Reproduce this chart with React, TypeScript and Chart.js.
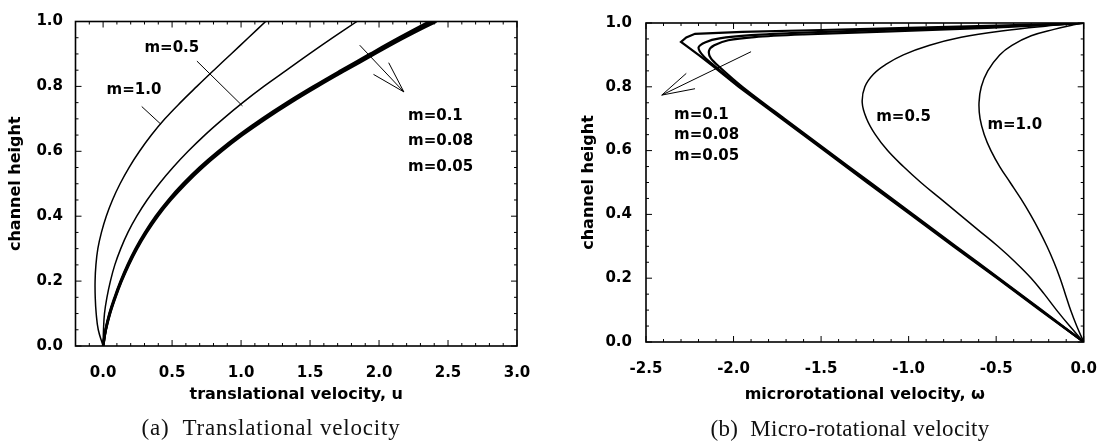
import React, { useEffect, useRef } from 'react';
import { Chart, registerables } from 'chart.js';

Chart.register(...registerables);

// ---------- Panel (a): translational velocity u vs channel height ----------
const uHeights = [0, 0.05, 0.1, 0.15, 0.2, 0.25, 0.3, 0.35, 0.4, 0.45, 0.5, 0.55, 0.6, 0.65, 0.7, 0.75, 0.8, 0.85, 0.9, 0.95, 1.0];
const uM10 = [0, -0.035, -0.05, -0.057, -0.058, -0.052, -0.038, -0.012, 0.023, 0.068, 0.123, 0.188, 0.264, 0.35, 0.448, 0.56, 0.68, 0.803, 0.928, 1.053, 1.178];
const uM05 = [0, 0.003, 0.01, 0.028, 0.053, 0.085, 0.128, 0.18, 0.244, 0.319, 0.407, 0.506, 0.616, 0.737, 0.87, 1.012, 1.165, 1.33, 1.495, 1.665, 1.84];
const uM01 = [0, 0.02, 0.05, 0.089, 0.134, 0.186, 0.246, 0.316, 0.396, 0.49, 0.598, 0.72, 0.858, 1.01, 1.178, 1.36, 1.555, 1.76, 1.97, 2.185, 2.415];
const uM008 = [0, 0.019, 0.048, 0.087, 0.131, 0.182, 0.241, 0.31, 0.389, 0.482, 0.589, 0.71, 0.847, 0.998, 1.165, 1.346, 1.54, 1.743, 1.952, 2.165, 2.39];
const uM005 = [0, 0.018, 0.046, 0.084, 0.128, 0.178, 0.236, 0.304, 0.382, 0.474, 0.58, 0.7, 0.836, 0.986, 1.152, 1.332, 1.525, 1.727, 1.934, 2.145, 2.365];

// ---------- Panel (b): micro-rotational velocity w vs channel height ----------
const wM10Heights = [0, 0.05, 0.1, 0.15, 0.2, 0.25, 0.3, 0.35, 0.4, 0.45, 0.5, 0.55, 0.6, 0.65, 0.7, 0.75, 0.8, 0.85, 0.9, 0.93, 0.96, 0.98, 0.995, 1.0];
const wM10 = [0, -0.04, -0.075, -0.105, -0.135, -0.17, -0.21, -0.255, -0.305, -0.36, -0.42, -0.48, -0.53, -0.568, -0.592, -0.598, -0.585, -0.548, -0.48, -0.41, -0.3, -0.17, -0.05, 0];
const wM05Heights = [0, 0.05, 0.1, 0.15, 0.2, 0.25, 0.3, 0.35, 0.4, 0.45, 0.5, 0.55, 0.6, 0.65, 0.7, 0.75, 0.8, 0.84, 0.87, 0.9, 0.93, 0.955, 0.975, 0.99, 1.0];
const wM05 = [0, -0.08, -0.155, -0.225, -0.3, -0.39, -0.49, -0.6, -0.71, -0.82, -0.93, -1.03, -1.12, -1.19, -1.24, -1.265, -1.25, -1.2, -1.13, -1.03, -0.88, -0.7, -0.47, -0.22, 0];
const wM01Heights = [0, 0.1, 0.2, 0.3, 0.4, 0.5, 0.6, 0.7, 0.8, 0.862, 0.89, 0.913, 0.93, 0.946, 0.956, 0.964, 0.974, 0.985, 0.994, 1.0];
const wM01 = [0, -0.24, -0.485, -0.73, -0.975, -1.22, -1.465, -1.71, -1.95, -2.08, -2.13, -2.14, -2.11, -2.03, -1.88, -1.6, -1.1, -0.55, -0.2, 0];
const wM008Heights = [0, 0.1, 0.2, 0.3, 0.4, 0.5, 0.6, 0.7, 0.8, 0.862, 0.895, 0.923, 0.94, 0.952, 0.962, 0.97, 0.979, 0.988, 0.996, 1.0];
const wM008 = [0, -0.245, -0.49, -0.737, -0.983, -1.228, -1.473, -1.718, -1.96, -2.1, -2.17, -2.2, -2.16, -2.08, -1.9, -1.6, -1.1, -0.55, -0.15, 0];
const wM005Heights = [0, 0.1, 0.2, 0.3, 0.4, 0.5, 0.6, 0.7, 0.8, 0.862, 0.9, 0.941, 0.955, 0.966, 0.972, 0.978, 0.985, 0.991, 0.997, 1.0];
const wM005 = [0, -0.25, -0.495, -0.744, -0.99, -1.236, -1.48, -1.726, -1.97, -2.11, -2.2, -2.3, -2.27, -2.22, -1.95, -1.5, -1.0, -0.55, -0.15, 0];

// ---------- Ticks and text ----------
const leftXTicks = [0, 0.5, 1.0, 1.5, 2.0, 2.5, 3.0];
const rightXTicks = [-2.5, -2.0, -1.5, -1.0, -0.5, 0];
const yTicks = [0, 0.2, 0.4, 0.6, 0.8, 1.0];
const leftXTitle = 'translational velocity, u';
const rightXTitle = 'microrotational velocity, \u03c9';
const yTitle = 'channel height';
const leftCaption = '(a)  Translational velocity';
const rightCaption = '(b)  Micro-rotational velocity';

// annotation labels / pointer lines in data coordinates
const leftLabels = [
  { text: 'm=0.5', x: 0.30, y: 0.918 },
  { text: 'm=1.0', x: 0.025, y: 0.788 },
  { text: 'm=0.1', x: 2.21, y: 0.708 },
  { text: 'm=0.08', x: 2.21, y: 0.630 },
  { text: 'm=0.05', x: 2.21, y: 0.552 },
];
const leftSegments = [
  [0.28, 0.738, 0.42, 0.683],
  [0.68, 0.878, 1.01, 0.74],
  [1.86, 0.927, 2.18, 0.783],
  [2.07, 0.873, 2.18, 0.783],
  [1.96, 0.837, 2.18, 0.783],
];
const rightLabels = [
  { text: 'm=0.1', x: -2.34, y: 0.71 },
  { text: 'm=0.08', x: -2.34, y: 0.648 },
  { text: 'm=0.05', x: -2.34, y: 0.584 },
  { text: 'm=0.5', x: -1.185, y: 0.705 },
  { text: 'm=1.0', x: -0.55, y: 0.68 },
];
const rightSegments = [
  [-1.90, 0.91, -2.41, 0.774],
  [-2.27, 0.842, -2.41, 0.774],
  [-2.22, 0.794, -2.41, 0.774],
];

const FONT = "'DejaVu Sans', sans-serif";
Chart.defaults.font.family = FONT;
Chart.defaults.color = '#000';

const pts = (xs: number[], ys: number[]) => xs.map((x, i) => ({ x, y: ys[i] }));

const frameTicks = {
  id: 'frameTicks',
  afterDatasetsDraw(chart: any, _a: any, o: any) {
    const { ctx, chartArea: a } = chart;
    const xs = chart.scales.x;
    const ys = chart.scales.y;
    ctx.save();
    ctx.strokeStyle = '#000';
    ctx.lineWidth = 1;
    ctx.beginPath();
    const nX = Math.round((xs.max - xs.min) / o.xMinor);
    for (let i = 0; i <= nX; i++) {
      const v = xs.min + i * o.xMinor;
      const r = v / o.xMajor;
      const len = Math.abs(r - Math.round(r)) < 1e-6 ? 6 : 3;
      const px = xs.getPixelForValue(v);
      ctx.moveTo(px, a.bottom); ctx.lineTo(px, a.bottom - len);
      ctx.moveTo(px, a.top); ctx.lineTo(px, a.top + len);
    }
    const nY = Math.round((ys.max - ys.min) / o.yMinor);
    for (let i = 0; i <= nY; i++) {
      const v = ys.min + i * o.yMinor;
      const r = v / o.yMajor;
      const len = Math.abs(r - Math.round(r)) < 1e-6 ? 6 : 3;
      const py = ys.getPixelForValue(v);
      ctx.moveTo(a.left, py); ctx.lineTo(a.left + len, py);
      ctx.moveTo(a.right, py); ctx.lineTo(a.right - len, py);
    }
    ctx.stroke();
    ctx.lineWidth = 1.6;
    ctx.strokeRect(a.left, a.top, a.right - a.left, a.bottom - a.top);
    ctx.restore();
  },
};

const notes = {
  id: 'notes',
  afterDatasetsDraw(chart: any, _a: any, o: any) {
    const { ctx } = chart;
    const xs = chart.scales.x;
    const ys = chart.scales.y;
    ctx.save();
    ctx.strokeStyle = '#000';
    ctx.lineWidth = 1;
    ctx.beginPath();
    for (const s of o.segments) {
      ctx.moveTo(xs.getPixelForValue(s[0]), ys.getPixelForValue(s[1]));
      ctx.lineTo(xs.getPixelForValue(s[2]), ys.getPixelForValue(s[3]));
    }
    ctx.stroke();
    ctx.fillStyle = '#000';
    ctx.font = `bold 15px ${FONT}`;
    ctx.textAlign = 'left';
    ctx.textBaseline = 'middle';
    for (const l of o.labels) {
      ctx.fillText(l.text, xs.getPixelForValue(l.x), ys.getPixelForValue(l.y));
    }
    ctx.restore();
  },
};

const caption = {
  id: 'caption',
  afterDraw(chart: any, _a: any, o: any) {
    const { ctx } = chart;
    ctx.save();
    ctx.fillStyle = '#111';
    ctx.font = "23px 'Liberation Serif', serif";
    try { (ctx as any).letterSpacing = o.spacing; } catch (e) { /* ignore */ }
    ctx.textAlign = 'center';
    ctx.textBaseline = 'middle';
    ctx.fillText(o.text, o.x, o.y);
    ctx.restore();
  },
};

function makeConfig(p: any) {
  return {
    type: 'scatter',
    data: {
      datasets: p.series.map((s: any) => ({
        label: s.label,
        data: pts(s.xs, s.ys),
        showLine: true,
        borderColor: '#000',
        backgroundColor: '#000',
        borderWidth: s.width,
        pointRadius: 0,
        tension: s.tension,
        fill: false,
      })),
    },
    options: {
      responsive: false,
      animation: false,
      devicePixelRatio: 1,
      layout: { padding: p.padding },
      scales: {
        x: {
          type: 'linear',
          min: p.xMin,
          max: p.xMax,
          afterFit: (s: any) => { s.height = p.xHeight; },
          afterBuildTicks: (s: any) => { s.ticks = p.xTicks.map((v: number) => ({ value: v })); },
          ticks: {
            padding: 18,
            autoSkip: false,
            maxRotation: 0,
            color: '#000',
            font: { size: 15, weight: 'bold' },
            callback: (v: any) => Number(v).toFixed(1),
          },
          grid: { display: false, drawTicks: false },
          border: { display: false },
          title: {
            display: true,
            text: p.xTitle,
            color: '#000',
            font: { size: 16, weight: 'bold' },
            padding: { top: 0, bottom: 39.4 },
          },
        },
        y: {
          type: 'linear',
          min: 0,
          max: 1,
          afterFit: (s: any) => { s.width = p.yWidth; },
          afterBuildTicks: (s: any) => { s.ticks = yTicks.map((v: number) => ({ value: v })); },
          ticks: {
            padding: p.yTickPad,
            color: '#000',
            font: { size: 15, weight: 'bold' },
            callback: (v: any) => Number(v).toFixed(1),
          },
          grid: { display: false, drawTicks: false },
          border: { display: false },
          title: {
            display: true,
            text: yTitle,
            color: '#000',
            font: { size: 16, weight: 'bold' },
            padding: { top: p.yTitlePad, bottom: 0 },
          },
        },
      },
      plugins: {
        legend: { display: false },
        tooltip: { enabled: false },
        frameTicks: { xMinor: 0.1, xMajor: 0.5, yMinor: 0.05, yMajor: 0.2 },
        notes: { labels: p.labels, segments: p.segments },
        caption: { text: p.caption, x: p.captionX, y: p.captionY, spacing: p.captionSpacing },
      },
    },
    plugins: [frameTicks, notes, caption],
  };
}

export default function App() {
  const leftRef = useRef<HTMLCanvasElement>(null);
  const rightRef = useRef<HTMLCanvasElement>(null);

  useEffect(() => {
    const left = new Chart(leftRef.current as any, makeConfig({
      series: [
        { label: 'm=1.0', xs: uM10, ys: uHeights, width: 1.5, tension: 0.4 },
        { label: 'm=0.5', xs: uM05, ys: uHeights, width: 1.5, tension: 0.4 },
        { label: 'm=0.1', xs: uM01, ys: uHeights, width: 2.6, tension: 0.4 },
        { label: 'm=0.08', xs: uM008, ys: uHeights, width: 2.6, tension: 0.4 },
        { label: 'm=0.05', xs: uM005, ys: uHeights, width: 2.6, tension: 0.4 },
      ],
      padding: { left: 0, right: 38, top: 12.5, bottom: 0 },
      xMin: -0.2, xMax: 3.0, xTicks: leftXTicks,
      xHeight: 98, yWidth: 75.5, yTickPad: 12.5, yTitlePad: 6.4,
      xTitle: leftXTitle,
      labels: leftLabels, segments: leftSegments,
      caption: leftCaption, captionX: 271, captionY: 429, captionSpacing: '0.8px',
    }) as any);

    const right = new Chart(rightRef.current as any, makeConfig({
      series: [
        { label: 'm=1.0', xs: wM10, ys: wM10Heights, width: 1.5, tension: 0.4 },
        { label: 'm=0.5', xs: wM05, ys: wM05Heights, width: 1.5, tension: 0.4 },
        { label: 'm=0.1', xs: wM01, ys: wM01Heights, width: 2.2, tension: 0.3 },
        { label: 'm=0.08', xs: wM008, ys: wM008Heights, width: 2.2, tension: 0.3 },
        { label: 'm=0.05', xs: wM005, ys: wM005Heights, width: 2.2, tension: 0 },
      ],
      padding: { left: 0, right: 24, top: 13, bottom: 0 },
      xMin: -2.5, xMax: 0, xTicks: rightXTicks,
      xHeight: 102, yWidth: 91, yTickPad: 14, yTitlePad: 24.4,
      xTitle: rightXTitle,
      labels: rightLabels, segments: rightSegments,
      caption: rightCaption, captionX: 295, captionY: 430, captionSpacing: '0.3px',
    }) as any);

    return () => {
      left.destroy();
      right.destroy();
    };
  }, []);

  return (
    <div style={{ position: 'fixed', left: 0, top: 0, width: 1115, height: 444, background: '#fff', overflow: 'hidden' }}>
      <canvas ref={leftRef} width={555} height={444} style={{ position: 'absolute', left: 0, top: 0, width: 555, height: 444 }} />
      <canvas ref={rightRef} width={560} height={444} style={{ position: 'absolute', left: 555, top: 0, width: 560, height: 444 }} />
    </div>
  );
}
